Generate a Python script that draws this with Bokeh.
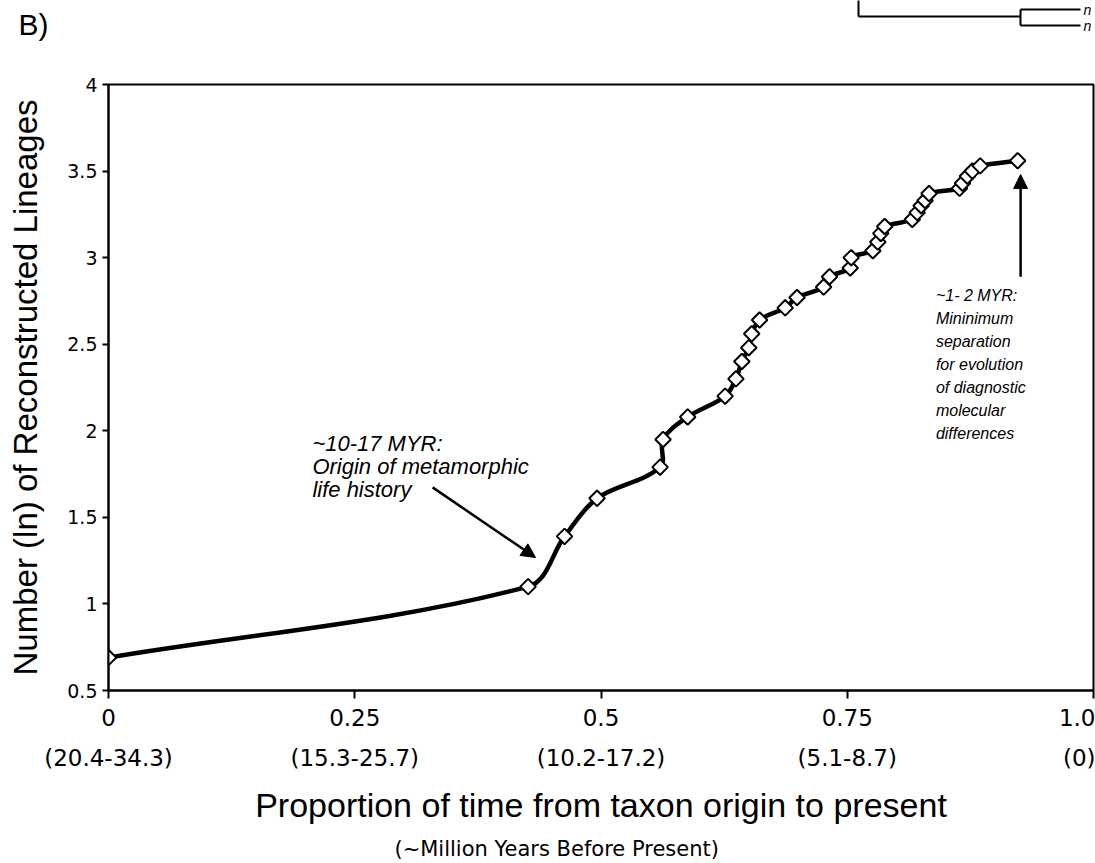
import numpy as np
from bokeh.plotting import figure
from bokeh.models import (Range1d, LinearAxis, FixedTicker, Label, Arrow, NormalHead,
                          NumeralTickFormatter)
from bokeh.layouts import column
from bokeh.embed import file_html
from bokeh.resources import INLINE

# ---------------- data ----------------
prop_time = [0.0, 0.426, 0.463, 0.496, 0.560, 0.563, 0.588,
             0.626, 0.637, 0.643, 0.650, 0.653, 0.661,
             0.687, 0.699, 0.726, 0.732, 0.753, 0.754,
             0.776, 0.781, 0.784, 0.788,
             0.816, 0.821, 0.825, 0.829, 0.833,
             0.864, 0.867, 0.872, 0.877, 0.885,
             0.923]
ln_lineages = [0.69, 1.10, 1.39, 1.61, 1.79, 1.95, 2.08,
               2.20, 2.30, 2.40, 2.48, 2.56, 2.64,
               2.71, 2.77, 2.83, 2.89, 2.94, 3.00,
               3.04, 3.09, 3.14, 3.18,
               3.22, 3.26, 3.30, 3.33, 3.37,
               3.40, 3.43, 3.47, 3.50, 3.53,
               3.56]

x_ticks = [0, 0.25, 0.5, 0.75, 1.0]
x_tick_labels = ["0", "0.25", "0.5", "0.75", "1.0"]
myr_labels = ["(20.4-34.3)", "(15.3-25.7)", "(10.2-17.2)", "(5.1-8.7)", "(0)"]
y_ticks = [0.5, 1, 1.5, 2, 2.5, 3, 3.5, 4]
subtitle = "(~Million Years Before Present)"

note1_lines = ["~10-17 MYR:", "Origin of metamorphic", "life history"]
note2_lines = ["~1- 2 MYR:", "Mininimum", "separation", "for evolution",
               "of diagnostic", "molecular", "differences"]

# dendrogram fragment (top-right corner), page-pixel units
tree_x0 = [858, 858, 1020, 1020, 1020]
tree_y0 = [-2, 16, 9, 9, 25]
tree_x1 = [858, 1020, 1020, 1080, 1080]
tree_y1 = [16, 16, 25, 9, 25]

SANS = "Liberation Sans"
TICKF = "DejaVu Sans"
W, H_HDR, H_MAIN = 1095, 60, 803
FRAME_W, FRAME_H = 985.0, 606.0   # plot-area size in pixels

# ---------------- header ----------------
hdr = figure(width=W, height=H_HDR, x_range=Range1d(0, W), y_range=Range1d(H_HDR, 0),
             output_backend="svg", toolbar_location=None,
             min_border=0, x_axis_type=None, y_axis_type=None)
hdr.frame_align = False
hdr.outline_line_color = None
hdr.xgrid.visible = False
hdr.ygrid.visible = False
hdr.segment(tree_x0, tree_y0, tree_x1, tree_y1, line_color="black", line_width=2)
hdr.add_layout(Label(x=18, y=24, text="B)", text_font=SANS, text_font_size="30px",
                     text_color="black", text_baseline="middle", text_align="left"))
for yy in (9, 25):
    hdr.add_layout(Label(x=1083, y=yy, text="n", text_font=SANS, text_font_style="italic",
                         text_font_size="14px", text_color="black",
                         text_baseline="middle", text_align="left"))

# ---------------- main plot ----------------
p = figure(width=W, height=H_MAIN, x_range=Range1d(0, 1), y_range=Range1d(0.5, 4),
           output_backend="svg", toolbar_location=None,
           min_border_left=108, min_border_right=2, min_border_top=24, min_border_bottom=173)
p.xgrid.visible = False
p.ygrid.visible = False
p.outline_line_color = "black"
p.outline_line_width = 2
p.background_fill_color = "white"
p.border_fill_color = "white"

# x axis 1: proportion ticks
xa = p.xaxis[0]
xa.ticker = FixedTicker(ticks=x_ticks)
xa.major_label_overrides = dict(zip(x_ticks, x_tick_labels))
xa.major_tick_out = 8
xa.major_tick_in = 0
xa.minor_tick_line_color = None
xa.axis_line_width = 2
xa.major_tick_line_width = 2
xa.major_label_text_font = TICKF
xa.major_label_text_font_size = "23px"
xa.major_label_text_color = "black"
xa.major_label_standoff = 10

# x axis 2: million-year ranges + title
xa2 = LinearAxis(ticker=FixedTicker(ticks=x_ticks),
                 major_label_overrides=dict(zip(x_ticks, myr_labels)),
                 axis_line_color=None, major_tick_line_color=None, minor_tick_line_color=None,
                 major_tick_out=0, major_tick_in=0, minor_tick_out=0, minor_tick_in=0,
                 major_label_standoff=16,
                 major_label_text_font=TICKF, major_label_text_font_size="23px",
                 major_label_text_color="black",
                 axis_label="Proportion of time from taxon origin to present",
                 axis_label_text_font=SANS, axis_label_text_font_size="34px",
                 axis_label_text_font_style="normal", axis_label_text_color="black",
                 axis_label_standoff=12)
p.add_layout(xa2, "below")

# x axis 3: subtitle placed as a single tick label
sub_pos = [0.455]
xa3 = LinearAxis(ticker=FixedTicker(ticks=sub_pos),
                 major_label_overrides={sub_pos[0]: subtitle},
                 axis_line_color=None, major_tick_line_color=None, minor_tick_line_color=None,
                 major_tick_out=0, major_tick_in=0, minor_tick_out=0, minor_tick_in=0,
                 major_label_standoff=10,
                 major_label_text_font=TICKF, major_label_text_font_size="21px",
                 major_label_text_color="black")
p.add_layout(xa3, "below")

# y axis
ya = p.yaxis[0]
ya.ticker = FixedTicker(ticks=y_ticks)
ya.formatter = NumeralTickFormatter(format="0.[0]")
ya.major_tick_out = 6
ya.major_tick_in = 0
ya.minor_tick_line_color = None
ya.axis_line_width = 2
ya.major_tick_line_width = 2
ya.major_label_text_font = TICKF
ya.major_label_text_font_size = "19px"
ya.major_label_text_color = "black"
ya.major_label_standoff = 5
ya.axis_label = "Number (ln) of Reconstructed Lineages"
ya.axis_label_text_font = SANS
ya.axis_label_text_font_size = "33px"
ya.axis_label_text_font_style = "normal"
ya.axis_label_text_color = "black"
ya.axis_label_standoff = 20

# smoothed curve through the read points (cubic segments, tangents sized per segment
# in screen proportions so that the curve never loops back)
xs = np.array(prop_time)
ys = np.array(ln_lineages)
sx = FRAME_W / 1.0
sy = FRAME_H / 3.5
X, Y = xs * sx, ys * sy
n = len(xs)
prev_i = np.r_[0, np.arange(n - 1)]
next_i = np.r_[np.arange(1, n), n - 1]
TX, TY = X[next_i] - X[prev_i], Y[next_i] - Y[prev_i]
TN = np.hypot(TX, TY)
TX, TY = TX / TN, TY / TN
L = np.hypot(np.diff(X), np.diff(Y)) / 3.0
cx0 = (X[:-1] + TX[:-1] * L) / sx
cy0 = (Y[:-1] + TY[:-1] * L) / sy
cx1 = (X[1:] - TX[1:] * L) / sx
cy1 = (Y[1:] - TY[1:] * L) / sy
p.bezier(x0=xs[:-1], y0=ys[:-1], x1=xs[1:], y1=ys[1:], cx0=cx0, cy0=cy0, cx1=cx1, cy1=cy1,
         line_color="black", line_width=4.5, line_cap="round")
p.scatter(prop_time, ln_lineages, marker="square", angle=np.pi / 4, size=11,
          fill_color="white", line_color="black", line_width=2)

# annotations
for i, t in enumerate(note1_lines):
    p.add_layout(Label(x=0.207, y=1.925 - i * 0.1328, text=t, text_font=SANS,
                       text_font_style="italic", text_font_size="22px", text_color="black",
                       text_baseline="middle", text_align="left"))
for i, t in enumerate(note2_lines):
    p.add_layout(Label(x=0.840, y=2.781 - i * 0.1328, text=t, text_font=SANS,
                       text_font_style="italic", text_font_size="16px", text_color="black",
                       text_baseline="middle", text_align="left"))

p.add_layout(Arrow(end=NormalHead(size=14, fill_color="black", line_color="black"),
                   x_start=0.329, y_start=1.673, x_end=0.4335, y_end=1.268,
                   line_color="black", line_width=2.5))
p.add_layout(Arrow(end=NormalHead(size=14, fill_color="black", line_color="black"),
                   x_start=0.926, y_start=2.89, x_end=0.926, y_end=3.48,
                   line_color="black", line_width=2.5))

layout = column(hdr, p, spacing=0)
open("out.html", "w").write(file_html(layout, INLINE))
